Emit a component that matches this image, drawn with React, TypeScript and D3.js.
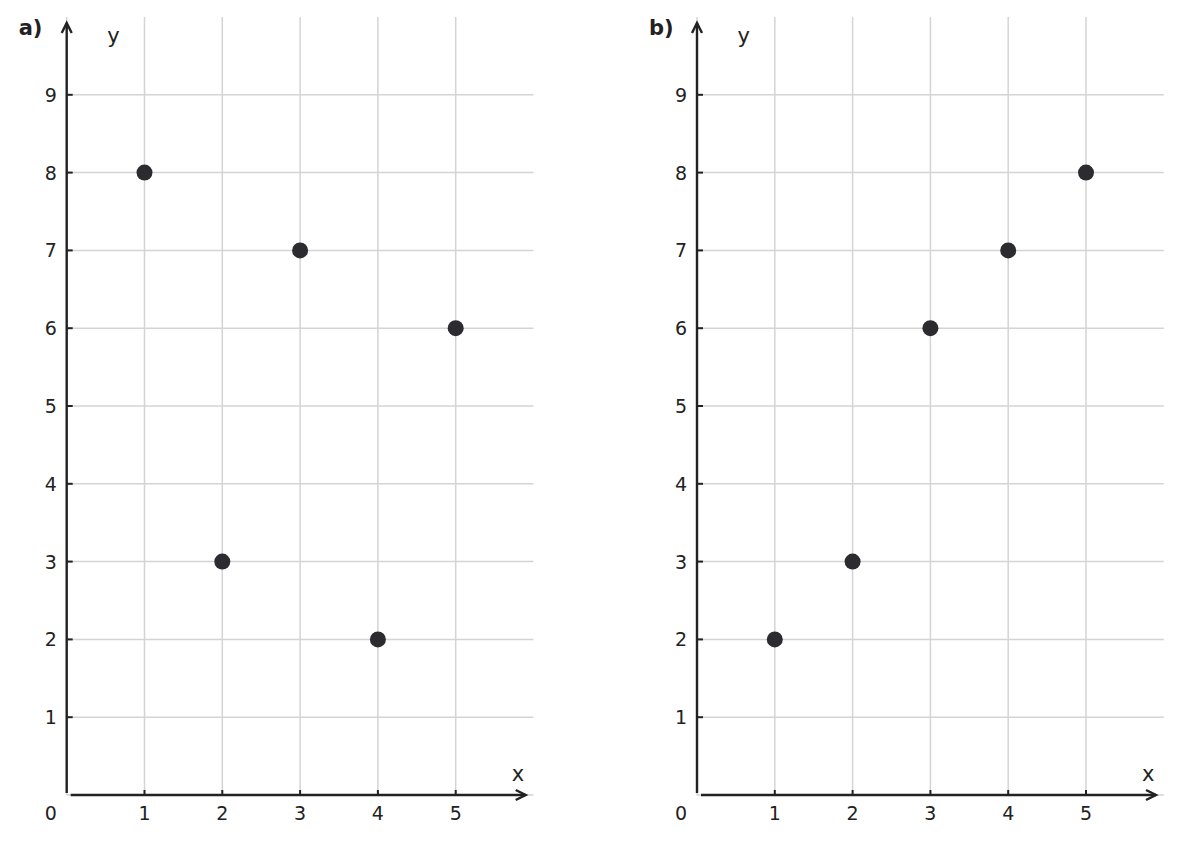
import React from "react";
import * as d3 from "d3";

const xValues = [1, 2, 3, 4, 5];
const seriesA = [8, 3, 7, 2, 6];
const seriesB = [2, 3, 6, 7, 8];
const xTicks = [1, 2, 3, 4, 5];
const yTicks = [1, 2, 3, 4, 5, 6, 7, 8, 9];
const panelLabels = ["a)", "b)"];

const FONT = "'DejaVu Sans', sans-serif";
const AXIS = "#222";
const GRID = "#d4d4d4";
const DOT = "#2b2b30";

function Panel({ left, label, values }: { left: number; label: string; values: number[] }) {
  const x = d3.scaleLinear().domain([0, 6]).range([left, left + 466.8]);
  const y = d3.scaleLinear().domain([0, 10]).range([795, 17]);
  const x0 = x(0);
  const y0 = y(0);
  const gridX = [0, ...xTicks];
  const gridY = [0, ...yTicks];
  return (
    <g>
      {gridX.map((t) => (
        <line key={"gx" + t} x1={x(t)} x2={x(t)} y1={y(10)} y2={y0} stroke={GRID} strokeWidth={1.5} />
      ))}
      {gridY.map((t) => (
        <line key={"gy" + t} x1={x0} x2={x(6)} y1={y(t)} y2={y(t)} stroke={GRID} strokeWidth={1.5} />
      ))}
      {/* y axis */}
      <line x1={x0} x2={x0} y1={y0 - 2} y2={23} stroke={AXIS} strokeWidth={2.4} />
      <path d={`M${x0 - 5},${33} L${x0},${23} L${x0 + 5},${33}`} fill="none" stroke={AXIS} strokeWidth={2.4} />
      {/* x axis */}
      <line x1={x0 + 4} x2={x(5.9)} y1={y0} y2={y0} stroke={AXIS} strokeWidth={2.4} />
      <path d={`M${x(5.9) - 10},${y0 - 5} L${x(5.9)},${y0} L${x(5.9) - 10},${y0 + 5}`} fill="none" stroke={AXIS} strokeWidth={2.4} />
      {yTicks.map((t) => (
        <g key={"yt" + t}>
          <line x1={x0} x2={x0 + 6} y1={y(t)} y2={y(t)} stroke={AXIS} strokeWidth={2} />
          <text x={x0 - 16} y={y(t)} textAnchor="middle" dominantBaseline="central" fontFamily={FONT} fontSize={19} fill={AXIS}>{t}</text>
        </g>
      ))}
      {xTicks.map((t) => (
        <g key={"xt" + t}>
          <line x1={x(t)} x2={x(t)} y1={y0} y2={y0 - 5} stroke={AXIS} strokeWidth={2} />
          <text x={x(t)} y={y0 + 18} textAnchor="middle" dominantBaseline="central" fontFamily={FONT} fontSize={19} fill={AXIS}>{t}</text>
        </g>
      ))}
      <text x={x0 - 16} y={y0 + 18} textAnchor="middle" dominantBaseline="central" fontFamily={FONT} fontSize={19} fill={AXIS}>0</text>
      <text x={x(0.6)} y={36} textAnchor="middle" dominantBaseline="central" fontFamily={FONT} fontSize={21} fill={AXIS}>y</text>
      <text x={x(5.8)} y={774} textAnchor="middle" dominantBaseline="central" fontFamily={FONT} fontSize={21} fill={AXIS}>x</text>
      <text x={left - 48} y={28} textAnchor="start" dominantBaseline="central" fontFamily={FONT} fontWeight="bold" fontSize={21} fill={AXIS}>{label}</text>
      {xValues.map((v, i) => (
        <circle key={"p" + i} cx={x(v)} cy={y(values[i])} r={8} fill={DOT} />
      ))}
    </g>
  );
}

export default function App() {
  return (
    <svg width={1181} height={843} style={{ position: "absolute", left: 0, top: 0, background: "#fff" }}>
      <Panel left={66.7} label={panelLabels[0]} values={seriesA} />
      <Panel left={697} label={panelLabels[1]} values={seriesB} />
    </svg>
  );
}
